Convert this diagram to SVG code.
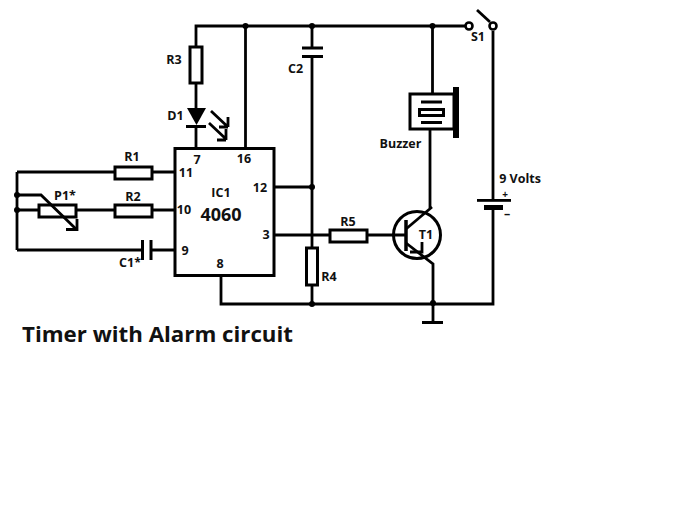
<svg xmlns="http://www.w3.org/2000/svg" width="691" height="518" viewBox="0 0 691 518">
<style>
.w{fill:none;stroke:#000;stroke-width:2.8;stroke-linecap:butt;stroke-linejoin:miter}
.b{fill:#fff;stroke:#000;stroke-width:3}
.d{fill:#000}
.t{font-family:"Open Sans","Noto Sans",sans-serif;font-weight:700;font-size:12.5px;fill:#111;text-anchor:middle}
</style>
<rect width="691" height="518" fill="#fff"/>
<g id="connectors" class="w">
<path d="M196 47V26H466"/>
<path d="M245.500 26V148"/>
<path d="M312 26V48M312 57V248M312 285V304"/>
<path d="M432.500 26V102"/>
<path d="M493 31V200M493 207V304H221V276"/>
<path d="M477 10L490 22"/>
<path d="M430 122V208"/>
<path d="M196 83V108M196 126V148"/>
<path d="M17 172V250M17 172H115M152 172H175"/>
<path d="M17 210H39M76 210H115M152 210H175"/>
<path d="M17 195H41L76 229"/>
<path d="M66 229.500H77V219"/>
<path d="M17 250H142M151 250H175"/>
<path d="M273 187H312M273 235H330M367 235H406"/>
<path d="M406 243L433 264V322"/>
<path d="M406 229L432 207"/>
<path d="M410 252H422V242"/>
</g>
<g id="IC1"><rect x="175" y="148.500" width="99" height="127" fill="#fff" stroke="#000" stroke-width="3"/>
<text class="t" x="197" y="164">7</text><text class="t" x="244" y="163">16</text>
<text class="t" x="186" y="177">11</text><text class="t" x="184" y="214">10</text>
<text class="t" x="185" y="255">9</text><text class="t" x="220" y="268">8</text>
<text class="t" x="260" y="192">12</text><text class="t" x="266" y="239">3</text>
<text class="t" x="221" y="197">IC1</text>
<text x="221" y="221" style="font-family:'Open Sans','Noto Sans',sans-serif;font-weight:700;font-size:18px;fill:#111;text-anchor:middle">4060</text></g>
<g id="R1"><rect class="b" x="115" y="167" width="37" height="12"/><text class="t" x="132" y="161">R1</text></g>
<g id="R2"><rect class="b" x="115" y="205" width="37" height="12"/><text class="t" x="133" y="201">R2</text></g>
<g id="P1"><rect class="b" x="39" y="205" width="37" height="12" style="fill:none"/><text class="t" x="65" y="200">P1*</text></g>
<g id="C1"><path class="w" d="M142.500 240V260M151 240V260" style="stroke-width:3"/><text class="t" x="130" y="267">C1*</text></g>
<g id="R3"><rect class="b" x="190" y="47" width="12" height="36"/><text class="t" x="174" y="64">R3</text></g>
<g id="D1"><path class="d" d="M187 108H206L196.500 125Z"/><path class="w" d="M186 126.500H206" style="stroke-width:3"/>
<path class="w" d="M211 111L228 127M228 117V127M219 127H228"/><path class="w" d="M209 123L226 139M226 129V140M217 140H226"/>
<text class="t" x="175.500" y="120">D1</text></g>
<g id="C2"><path class="w" d="M302 48H323M302 56.500H323" style="stroke-width:3"/><text class="t" x="295.500" y="73">C2</text></g>
<g id="R4"><rect class="b" x="306.500" y="248" width="11" height="37"/><text class="t" x="329" y="281">R4</text></g>
<g id="R5"><rect class="b" x="330" y="230" width="37" height="12"/><text class="t" x="348" y="226">R5</text></g>
<g id="T1"><circle cx="417" cy="235" r="23.500" fill="none" stroke="#000" stroke-width="3"/><path class="w" d="M406 220V251" style="stroke-width:3.500"/><text class="t" x="426" y="239">T1</text></g>
<g id="Buzzer"><rect class="b" x="410" y="94" width="44" height="35"/><rect class="d" x="453" y="87" width="6" height="51"/>
<path class="w" d="M421 102H442M421 122.500H442"/><rect x="419.500" y="109.500" width="24" height="6" fill="#fff" stroke="#000" stroke-width="3"/>
<text class="t" x="400.500" y="148">Buzzer</text></g>
<g id="S1"><circle cx="469" cy="26" r="3.500" fill="#fff" stroke="#000" stroke-width="2.600"/><circle cx="493" cy="26" r="3.500" fill="#fff" stroke="#000" stroke-width="2.600"/><text class="t" x="478" y="41">S1</text></g>
<g id="Battery"><rect class="d" x="477" y="199" width="34" height="2.800"/><rect class="d" x="484" y="205" width="19" height="5"/>
<text class="t" x="520" y="183">9 Volts</text><text class="t" x="505" y="198" style="font-size:10px">+</text><text class="t" x="507" y="218">–</text></g>
<g id="Ground"><path class="w" d="M422 322.500H443" style="stroke-width:3"/></g>
<g id="junctions" class="d">
<circle cx="245.500" cy="26" r="3"/><circle cx="312" cy="26" r="3"/><circle cx="432.500" cy="26" r="3"/>
<circle cx="312" cy="187" r="3"/><circle cx="312" cy="304" r="3"/><circle cx="433" cy="303" r="3"/>
<circle cx="17" cy="195" r="3"/><circle cx="17" cy="210" r="3"/></g>
<text id="title" x="22" y="342" textLength="271" lengthAdjust="spacingAndGlyphs" style="font-family:'Open Sans','Noto Sans',sans-serif;font-weight:700;font-size:22px;fill:#111">Timer with Alarm circuit</text>
</svg>
